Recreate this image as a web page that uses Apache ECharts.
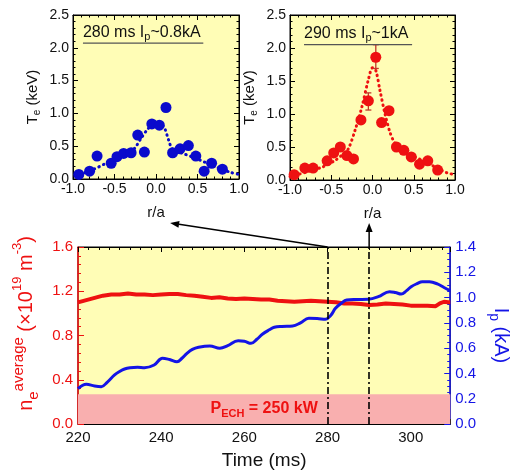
<!DOCTYPE html>
<html><head><meta charset="utf-8">
<script src="https://cdn.jsdelivr.net/npm/echarts@6/dist/echarts.min.js"></script>
<style>html,body{margin:0;padding:0;background:#fff}#c{width:519px;height:473px}</style>
</head><body><div id="c"></div>
<script>
// ---- data ----
const r280 = [-0.93,-0.80,-0.71,-0.54,-0.47,-0.39,-0.30,-0.22,-0.14,-0.05,0.04,0.12,0.20,0.29,0.39,0.48,0.58,0.67,0.80];
const te280 = [0.07,0.12,0.35,0.24,0.34,0.39,0.40,0.67,0.41,0.84,0.82,1.09,0.40,0.46,0.51,0.35,0.12,0.24,0.15];
const err280 = [[0.12,1.03,1.15]];
const fitR280 = [-0.97,-0.8,-0.6,-0.45,-0.32,-0.25,-0.18,-0.1,-0.04,0.04,0.1,0.15,0.2,0.3,0.45,0.6,0.75,0.9,1.0];
const fitTe280 = [0.05,0.12,0.24,0.32,0.40,0.48,0.62,0.76,0.82,0.82,0.78,0.6,0.45,0.40,0.33,0.25,0.17,0.10,0.07];

const r290 = [-0.95,-0.82,-0.72,-0.55,-0.47,-0.39,-0.31,-0.23,-0.14,-0.05,0.04,0.11,0.20,0.29,0.38,0.47,0.57,0.67,0.79];
const te290 = [0.08,0.18,0.18,0.29,0.41,0.50,0.37,0.32,0.91,1.20,1.86,0.87,1.05,0.50,0.45,0.35,0.24,0.29,0.15];
const err290 = [[-0.05,1.06,1.32],[0.04,1.69,2.05]];
const fitR290 = [-1.0,-0.8,-0.6,-0.45,-0.35,-0.29,-0.21,-0.13,-0.05,0.0,0.04,0.09,0.15,0.21,0.27,0.35,0.5,0.65,0.8,0.9,1.0];
const fitTe290 = [0.05,0.12,0.2,0.3,0.4,0.48,0.76,1.1,1.52,1.70,1.66,1.36,1.01,0.73,0.56,0.46,0.36,0.27,0.17,0.11,0.08];

const neTime = [220,222,224,226,228,230,232,234,236,238,240,242,244,246,248,250,252,254,256,258,260,262,264,266,268,270,272,274,276,278,280,282,284,286,288,290,292,294,296,298,300,302,304,306,307,308,309,309.5];
const neVal = [1.10,1.12,1.14,1.16,1.17,1.17,1.18,1.17,1.17,1.165,1.17,1.175,1.175,1.165,1.16,1.15,1.14,1.145,1.135,1.13,1.135,1.13,1.125,1.125,1.115,1.11,1.105,1.11,1.115,1.11,1.105,1.10,1.09,1.09,1.085,1.075,1.08,1.09,1.085,1.08,1.07,1.07,1.07,1.065,1.09,1.105,1.10,1.10];

const ipTime = [220,222,224,225.6,227,228.8,230,231.2,232.5,234.3,236,238.3,240.3,242,243.8,245,246.2,247.5,249,251.7,254.1,256,258.5,260,261.6,263,264.4,266,267.2,269,271.6,273.5,275.5,277.5,279.5,280.8,281.9,283.3,284.6,287,289.8,292.2,294.9,296.3,297.7,299,300.1,301.5,302.8,304.5,306.4,308,309.5];
const ipVal = [0.28,0.314,0.30,0.295,0.33,0.388,0.415,0.435,0.445,0.448,0.445,0.467,0.52,0.51,0.493,0.52,0.559,0.59,0.607,0.617,0.599,0.62,0.659,0.655,0.638,0.67,0.712,0.745,0.765,0.772,0.775,0.80,0.836,0.835,0.828,0.86,0.915,0.955,0.981,0.985,0.987,1.007,1.047,1.04,1.028,1.055,1.086,1.11,1.126,1.125,1.108,1.08,1.055];

const echPower = 0.27;      // P_ECH band height (left axis units)
const markTimes = [280, 290];

// ---- styling ----
const FONT = 'Liberation Sans, Arial, Helvetica, sans-serif';
const YEL = '#FFFDB6';
const PINK = '#F9AFAF';
const RED = '#EE1111';
const BLUE = '#1414E6';
const DBLUE = '#0A0ACC';

const zip = (a, b) => a.map((v, i) => [v, b[i]]);

function tickAxis(extra) {
  const base = {
    axisLine: {show: true, onZero: false, lineStyle: {color: '#000', width: 1}},
    axisTick: {show: true, inside: true, length: 5, lineStyle: {color: '#000'}},
    minorTick: {show: true, splitNumber: 5, length: 2.5, lineStyle: {color: '#000'}},
    splitLine: {show: false},
    axisLabel: {show: false}
  };
  const o = Object.assign(base, extra);
  o.axisLine = Object.assign({}, o.axisLine, {onZero: false});
  return o;
}
const f1 = v => v.toFixed(1);

const chart = echarts.init(document.getElementById('c'), null, {renderer: 'canvas'});

function errSeries(data, xi, yi, color) {
  return {
    type: 'custom', xAxisIndex: xi, yAxisIndex: yi, z: 2, data: data,
    renderItem(params, api) {
      const x = api.value(0), lo = api.value(1), hi = api.value(2);
      const p1 = api.coord([x, lo]), p2 = api.coord([x, hi]);
      const st = {stroke: color, lineWidth: 1.3};
      return {type: 'group', children: [
        {type: 'line', shape: {x1: p1[0], y1: p1[1], x2: p2[0], y2: p2[1]}, style: st},
        {type: 'line', shape: {x1: p1[0]-3, y1: p1[1], x2: p1[0]+3, y2: p1[1]}, style: st},
        {type: 'line', shape: {x1: p2[0]-3, y1: p2[1], x2: p2[0]+3, y2: p2[1]}, style: st}
      ]};
    }
  };
}

const teName = {
  name: '{t|T}{s|e}{t| (keV)}',
  nameLocation: 'middle', nameRotate: 90, nameGap: 31,
  nameTextStyle: {rich: {
    t: {fontFamily: FONT, fontSize: 15, color: '#111', lineHeight: 18},
    s: {fontFamily: FONT, fontSize: 10, color: '#111', lineHeight: 18, verticalAlign: 'bottom'}
  }}
};

const rxBottom = (gi) => tickAxis({
  gridIndex: gi, type: 'value', min: -1, max: 1, interval: 0.5, position: 'bottom',
  axisLabel: {show: true, formatter: f1, fontFamily: FONT, fontSize: 14, color: '#111', margin: 3},
  name: 'r/a', nameLocation: 'middle', nameGap: 26,
  nameTextStyle: {fontFamily: FONT, fontSize: 15, color: '#111'}
});
const rxTop = (gi) => tickAxis({gridIndex: gi, type: 'value', min: -1, max: 1, interval: 0.5, position: 'top'});
const teLeft = (gi) => tickAxis(Object.assign({
  gridIndex: gi, type: 'value', min: 0, max: 2.5, interval: 0.5, position: 'left',
  axisLabel: {show: true, formatter: f1, fontFamily: FONT, fontSize: 14, color: '#111', margin: 4}
}, teName));
const teRight = (gi) => tickAxis({gridIndex: gi, type: 'value', min: 0, max: 2.5, interval: 0.5, position: 'right'});

const option = {
  animation: false,
  backgroundColor: '#fff',
  grid: [
    {left: 73, top: 15, width: 166, height: 164, show: true, backgroundColor: YEL, borderColor: '#000', borderWidth: 1},
    {left: 290, top: 15, width: 165, height: 165, show: true, backgroundColor: YEL, borderColor: '#000', borderWidth: 1},
    {left: 78, top: 247, width: 377, height: 177, show: true, backgroundColor: YEL, borderColor: '#000', borderWidth: 1}
  ],
  xAxis: [
    rxBottom(0), rxTop(0), rxBottom(1), rxTop(1),
    tickAxis({
      gridIndex: 2, type: 'value', min: 220, max: 309.5, interval: 20, position: 'bottom',
      minorTick: {show: true, splitNumber: 8, length: 3, lineStyle: {color: '#000'}},
      axisLabel: {show: true, fontFamily: FONT, fontSize: 15, color: '#111', margin: 6, showMaxLabel: false},
      name: 'Time (ms)', nameLocation: 'middle', nameGap: 27,
      nameTextStyle: {fontFamily: FONT, fontSize: 19, color: '#111'}
    }),
    tickAxis({gridIndex: 2, type: 'value', min: 220, max: 309.5, interval: 20, position: 'top',
      minorTick: {show: true, splitNumber: 8, length: 3, lineStyle: {color: '#000'}}})
  ],
  yAxis: [
    teLeft(0), teRight(0), teLeft(1), teRight(1),
    tickAxis({
      gridIndex: 2, type: 'value', min: 0, max: 1.6, interval: 0.4, position: 'left',
      axisLine: {show: true, lineStyle: {color: RED, width: 1.5}},
      axisTick: {show: true, inside: true, length: 6, lineStyle: {color: RED}},
      minorTick: {show: true, splitNumber: 5, length: 3, lineStyle: {color: RED}},
      axisLabel: {show: true, formatter: f1, fontFamily: FONT, fontSize: 15, color: RED, margin: 5},
      name: '{n|n}{sb|e}{sp|average}{n| (×10}{sp2|19}{n| m}{sp2|-3}{n|)}',
      nameLocation: 'middle', nameRotate: 90, nameGap: 34,
      nameTextStyle: {padding: [0, 0, 0, 24], rich: {
        n: {fontFamily: FONT, fontSize: 20, color: RED, lineHeight: 30},
        sb: {fontFamily: FONT, fontSize: 15, color: RED, lineHeight: 22, verticalAlign: 'bottom'},
        sp: {fontFamily: FONT, fontSize: 15, color: RED, lineHeight: 16, verticalAlign: 'top'},
        sp2: {fontFamily: FONT, fontSize: 13, color: RED, lineHeight: 14, verticalAlign: 'top'}
      }}
    }),
    tickAxis({
      gridIndex: 2, type: 'value', min: 0, max: 1.4, interval: 0.2, position: 'right',
      axisLine: {show: true, lineStyle: {color: BLUE, width: 1.5}},
      axisTick: {show: true, inside: true, length: 6, lineStyle: {color: BLUE}},
      minorTick: {show: true, splitNumber: 4, length: 3, lineStyle: {color: BLUE}},
      axisLabel: {show: true, formatter: f1, fontFamily: FONT, fontSize: 15, color: BLUE, margin: 5},
      name: '{n|I}{sb|p}{n| (kA)}',
      nameLocation: 'middle', nameRotate: -90, nameGap: 33,
      nameTextStyle: {rich: {
        n: {fontFamily: FONT, fontSize: 20, color: BLUE, lineHeight: 28},
        sb: {fontFamily: FONT, fontSize: 14, color: BLUE, lineHeight: 22, verticalAlign: 'bottom'}
      }}
    })
  ],
  series: [
    {type: 'line', xAxisIndex: 0, yAxisIndex: 0, data: zip(fitR280, fitTe280), smooth: 0.3, symbol: 'none', z: 1,
      lineStyle: {color: DBLUE, width: 3, type: [0.5, 4.5], cap: 'round'}},
    errSeries(err280, 0, 0, '#2222AA'),
    {type: 'scatter', xAxisIndex: 0, yAxisIndex: 0, data: zip(r280, te280), symbolSize: 11, z: 3,
      itemStyle: {color: DBLUE, opacity: 1}},
    {type: 'line', xAxisIndex: 2, yAxisIndex: 2, data: zip(fitR290, fitTe290), smooth: 0.3, symbol: 'none', z: 1,
      lineStyle: {color: RED, width: 3, type: [0.5, 4.5], cap: 'round'}},
    errSeries(err290, 2, 2, '#C0392B'),
    {type: 'scatter', xAxisIndex: 2, yAxisIndex: 2, data: zip(r290, te290), symbolSize: 11, z: 3,
      itemStyle: {color: RED, opacity: 1}},
    {type: 'line', xAxisIndex: 4, yAxisIndex: 4, data: zip(neTime, neVal), symbol: 'none', z: 3,
      lineStyle: {color: RED, width: 4},
      markArea: {silent: true, z: 1, itemStyle: {color: PINK},
        label: {show: true, position: 'inside', formatter: '{b|P}{s|ECH}{b| = 250 kW}',
          rich: {b: {fontFamily: FONT, fontSize: 16, fontWeight: 'bold', color: RED, lineHeight: 20},
                 s: {fontFamily: FONT, fontSize: 11, fontWeight: 'bold', color: RED, lineHeight: 16, verticalAlign: 'bottom'}}},
        data: [[{yAxis: 0}, {yAxis: echPower}]]},
      markLine: {silent: true, symbol: 'none', z: 5, label: {show: false},
        lineStyle: {color: '#000', width: 1.6, type: [7, 3, 2, 3]},
        data: markTimes.map(t => ({xAxis: t}))}
    },
    {type: 'line', xAxisIndex: 4, yAxisIndex: 5, data: zip(ipTime, ipVal), symbol: 'none', smooth: 0.4, z: 4,
      lineStyle: {color: BLUE, width: 3}}
  ]
};
chart.setOption(option);

// ---- annotations (arrows, labels) ----
const g = [];
function arrow(x1, y1, x2, y2) {
  const dx = x2 - x1, dy = y2 - y1, L = Math.hypot(dx, dy), ux = dx / L, uy = dy / L;
  const hl = 9, hw = 3.5;
  const bx = x2 - ux * hl, by = y2 - uy * hl;
  g.push({type: 'line', shape: {x1, y1, x2: bx, y2: by}, style: {stroke: '#000', lineWidth: 1.5}, z: 10});
  g.push({type: 'polygon', shape: {points: [[x2, y2], [bx - uy * hw, by + ux * hw], [bx + uy * hw, by - ux * hw]]},
    style: {fill: '#000'}, z: 10});
}
const s280 = chart.convertToPixel({xAxisIndex: 4, yAxisIndex: 4}, [markTimes[0], 1.6]);
const s290 = chart.convertToPixel({xAxisIndex: 4, yAxisIndex: 4}, [markTimes[1], 1.6]);
const tipL = chart.convertToPixel({xAxisIndex: 0, yAxisIndex: 0}, [0.17, 0]);
arrow(s280[0], s280[1], tipL[0], tipL[1] + 44);
arrow(s290[0], s290[1], s290[0], s290[1] - 24);

function panelTitle(xi, yi, r0, r1, teLine, txt) {
  const a = chart.convertToPixel({xAxisIndex: xi, yAxisIndex: yi}, [r0, teLine]);
  const b = chart.convertToPixel({xAxisIndex: xi, yAxisIndex: yi}, [r1, teLine]);
  g.push({type: 'line', shape: {x1: a[0], y1: a[1], x2: b[0], y2: b[1]}, style: {stroke: '#555', lineWidth: 1.2}, z: 10});
  g.push({type: 'text', x: a[0], y: a[1] - 11, z: 10, style: {
    text: txt, textVerticalAlign: 'middle', verticalAlign: 'middle',
    rich: {t: {fontFamily: FONT, fontSize: 16, fill: '#111', lineHeight: 20},
           s: {fontFamily: FONT, fontSize: 11, fill: '#111', lineHeight: 15, verticalAlign: 'bottom'}}}});
}
panelTitle(0, 0, -0.88, 0.57, 2.07, '{t|280 ms I}{s|p}{t|~0.8kA}');
panelTitle(2, 2, -0.83, 0.48, 2.05, '{t|290 ms I}{s|p}{t|~1kA}');
chart.setOption({graphic: g});
</script></body></html>
